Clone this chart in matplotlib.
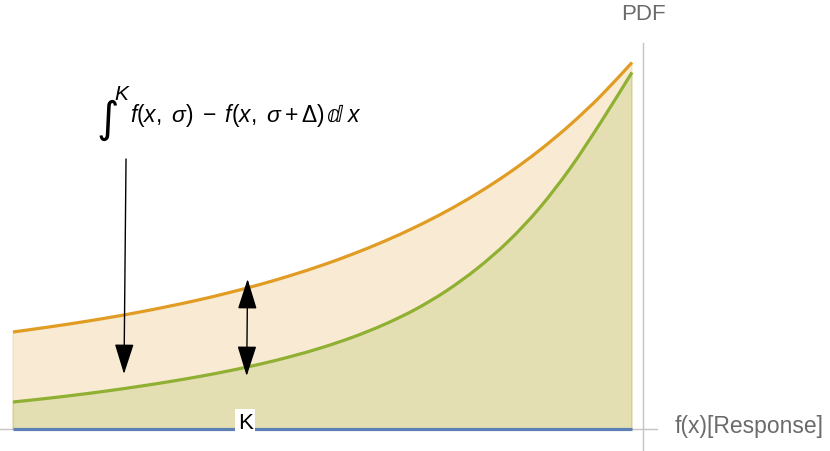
import matplotlib
matplotlib.use("Agg")
import matplotlib.pyplot as plt
from matplotlib.path import Path
from matplotlib.patches import PathPatch
import numpy as np

# ---- data ----
x = np.linspace(0, 10, 21)
pdf_sigma = [0.97, 1.013, 1.059, 1.109, 1.164, 1.225, 1.291, 1.365, 1.447, 1.538,
             1.639, 1.752, 1.878, 2.019, 2.177, 2.355, 2.556, 2.784, 3.042, 3.334, 3.665]
pdf_sigma_delta = [0.27, 0.303, 0.339, 0.379, 0.423, 0.471, 0.524, 0.583, 0.65, 0.727,
                   0.816, 0.921, 1.046, 1.196, 1.381, 1.606, 1.876, 2.206, 2.606, 3.071, 3.566]
baseline = [0.0] * len(x)
K_pos = 3.75
y_axis_x = 10.18

plt.rcParams['font.family'] = ['Liberation Sans', 'DejaVu Sans']
plt.rcParams['mathtext.fontset'] = 'custom'
plt.rcParams['mathtext.rm'] = 'Liberation Sans'
plt.rcParams['mathtext.it'] = 'Liberation Sans:italic'
plt.rcParams['mathtext.bf'] = 'Liberation Sans:bold'

C_BLUE = '#5E81B5'
C_ORANGE = '#E19C24'
C_GREEN = '#8FB032'
C_AXIS = '#c4c4c4'
C_LABEL = '#6b6b6b'


def smooth_codes_verts(xs, ys):
    """Catmull-Rom through the data points, expressed as cubic Bezier path pieces."""
    pts = np.column_stack([xs, ys]).astype(float)
    n = len(pts)
    verts = [pts[0]]
    codes = [Path.MOVETO]
    for i in range(n - 1):
        p0 = pts[max(i - 1, 0)]
        p1 = pts[i]
        p2 = pts[i + 1]
        p3 = pts[min(i + 2, n - 1)]
        c1 = p1 + (p2 - p0) / 6.0
        c2 = p2 - (p3 - p1) / 6.0
        verts += [c1, c2, p2]
        codes += [Path.CURVE4] * 3
    return verts, codes


fig = plt.figure(figsize=(8.3, 4.52), dpi=100)
ax = fig.add_axes([0, 0, 1, 1])
ax.set_xlim(-0.21, 13.199)
ax.set_ylim(-0.22, 4.30)
ax.axis('off')

# axes lines
ax.plot([-0.21, 10.40], [0, 0], color=C_AXIS, lw=1.0, zorder=1)
ax.plot([y_axis_x, y_axis_x], [-0.22, 3.86], color=C_AXIS, lw=1.0, zorder=1)


def draw_curve(xs, ys, color, z=2):
    verts, codes = smooth_codes_verts(xs, ys)
    fv = list(verts) + [np.array([xs[-1], 0.0]), np.array([xs[0], 0.0]), verts[0]]
    fc = list(codes) + [Path.LINETO, Path.LINETO, Path.CLOSEPOLY]
    ax.add_patch(PathPatch(Path(fv, fc), facecolor=color, edgecolor=color,
                           alpha=0.2, lw=1.0, zorder=z))
    ax.add_patch(PathPatch(Path(verts, codes), facecolor='none', edgecolor=color,
                           lw=2.3, zorder=5, capstyle='butt'))


draw_curve(x, pdf_sigma, C_ORANGE, z=2)
draw_curve(x, pdf_sigma_delta, C_GREEN, z=3)
ax.plot(x, baseline, color=C_BLUE, lw=2.3, zorder=5, solid_capstyle='butt')

# axis labels
ax.text(y_axis_x, 4.16, 'PDF', ha='center', va='center', fontsize=16, color=C_LABEL)
ax.text(10.69, 0.03, 'f(x)[Response]', ha='left', va='center', fontsize=16.5, color=C_LABEL)

# K label
ax.text(K_pos, 0.065, 'K', ha='center', va='center', fontsize=16, color='black', zorder=6,
        bbox=dict(boxstyle='square,pad=0.12', fc='white', ec='none'))

# integral annotation
ax.text(1.535, 3.10, '\u222B', ha='center', va='center', fontsize=31, color='black',
        family=['DejaVu Sans'])
ax.text(1.64, 3.35, 'K', ha='left', va='center', fontsize=15, color='black', style='italic')
ax.text(1.89, 3.08, r'$f(x,\ \sigma)\;-\;f(x,\ \sigma+\Delta)$',
        ha='left', va='baseline', fontsize=16.5, color='black')
ax.text(5.08, 3.08, '\u2146', ha='left', va='baseline', fontsize=16.5, color='black',
        family=['DejaVu Sans'])
ax.text(5.41, 3.08, 'x', ha='left', va='baseline', fontsize=16.5, color='black', style='italic')

arrow_style = dict(arrowstyle='-|>,head_length=1.9,head_width=0.6', mutation_scale=10,
                   lw=1.0, color='black', shrinkA=0, shrinkB=0)
ax.annotate('', xy=(1.793, 0.55), xytext=(1.826, 2.70), arrowprops=arrow_style, zorder=7)
dbl_style = dict(arrowstyle='<|-|>,head_length=1.9,head_width=0.6', mutation_scale=10,
                 lw=1.0, color='black', shrinkA=0, shrinkB=0)
ax.annotate('', xy=(3.775, 0.53), xytext=(3.79, 1.50), arrowprops=dbl_style, zorder=7)

fig.savefig('out.png', dpi=100)
